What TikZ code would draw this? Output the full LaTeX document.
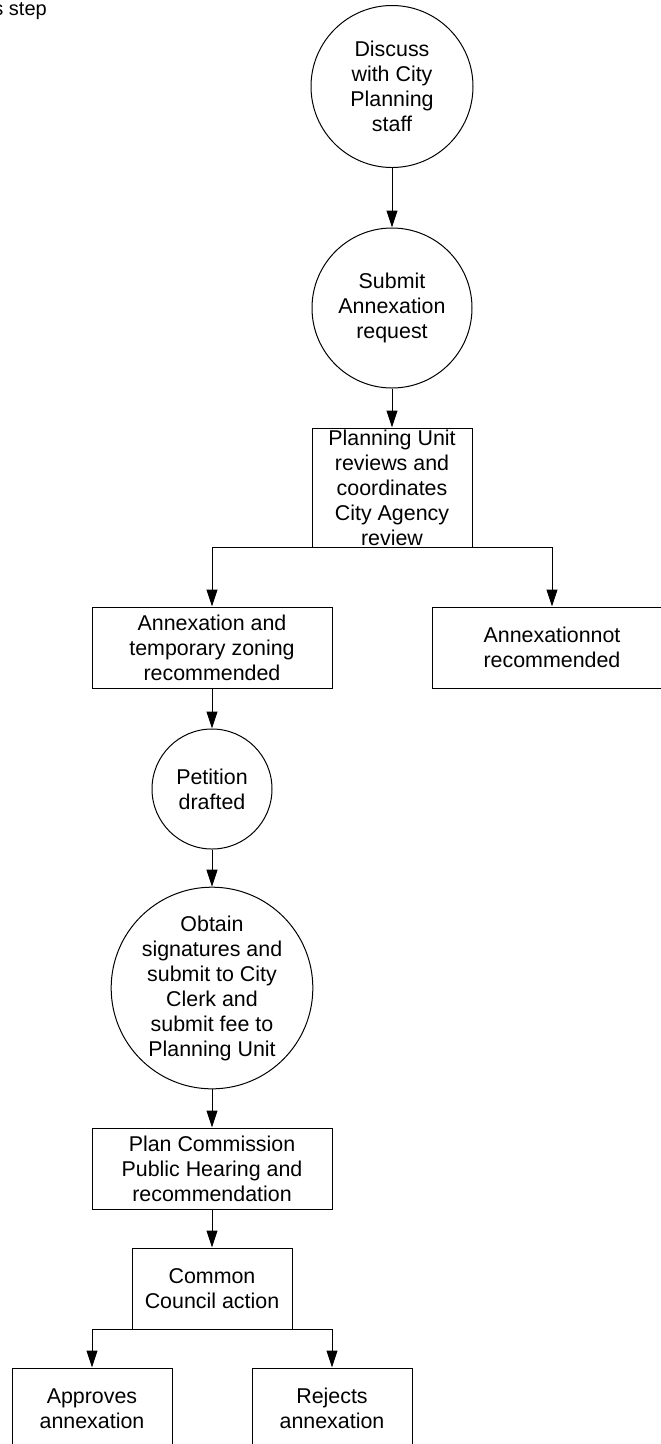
\documentclass[tikz,border=0pt]{standalone}
\usepackage{fontspec}
\setmainfont{Liberation Sans}
\usetikzlibrary{arrows.meta}
\begin{document}
\begin{tikzpicture}[x=1pt,y=-1pt,
  font=\fontsize{21.4}{25}\selectfont,
  proc/.style={circle, draw, line width=1pt, inner sep=0pt, align=center},
  box/.style={rectangle, draw, line width=1pt, inner sep=0pt, align=center, minimum width=240pt, minimum height=81pt},
  txt/.style={inner sep=0pt, align=center},
  arr/.style={-{Triangle[length=17pt,width=11pt]}, line width=1pt}]
\useasboundingbox (0,0) rectangle (661,1444);
\clip (0,0) rectangle (661,1444);
\fill[white] (0,0) rectangle (661,1444);
% legend fragment
\node[txt, anchor=base east, font=\fontsize{20}{24}\selectfont] (legend) at (47,15) {s step};
% nodes
\node[proc, minimum size=162pt] (discuss) at (392,86.5) {Discuss\\with City\\Planning\\staff};
\node[proc, minimum size=160pt] (submit) at (392,308) {Submit\\Annexation\\request};
\node[box, minimum width=160pt, minimum height=119pt] (review) at (392,487.5) {};
\node[txt] (reviewtxt) at (review.center) {Planning Unit\\reviews and\\coordinates\\City Agency\\review};
\node[box] (rec) at (212,647.5) {Annexation and\\temporary zoning\\recommended};
\node[box] (notrec) at (552,647.5) {Annexationnot\\recommended};
\node[proc, minimum size=120pt] (petition) at (212,789) {Petition\\drafted};
\node[proc, minimum size=200pt] (obtain) at (212,988) {Obtain\\signatures and\\submit to City\\Clerk and\\submit fee to\\Planning Unit};
\node[box] (plan) at (212,1168.5) {Plan Commission\\Public Hearing and\\recommendation};
\node[box, minimum width=160pt] (council) at (212,1288.5) {Common\\Council action};
\node[box, minimum width=160pt] (approve) at (92,1408.5) {Approves\\annexation};
\node[box, minimum width=160pt] (reject) at (332,1408.5) {Rejects\\annexation};
% connectors
\draw[arr] (discuss) -- (submit);
\draw[arr] (submit) -- (review);
\draw[arr] (review.south) -| (rec.north);
\draw[arr] (review.south) -| (notrec.north);
\draw[arr] (rec) -- (petition);
\draw[arr] (petition) -- (obtain);
\draw[arr] (obtain) -- (plan);
\draw[arr] (plan) -- (council);
\draw[arr] (council.south) -| (approve.north);
\draw[arr] (council.south) -| (reject.north);
\end{tikzpicture}
\end{document}
